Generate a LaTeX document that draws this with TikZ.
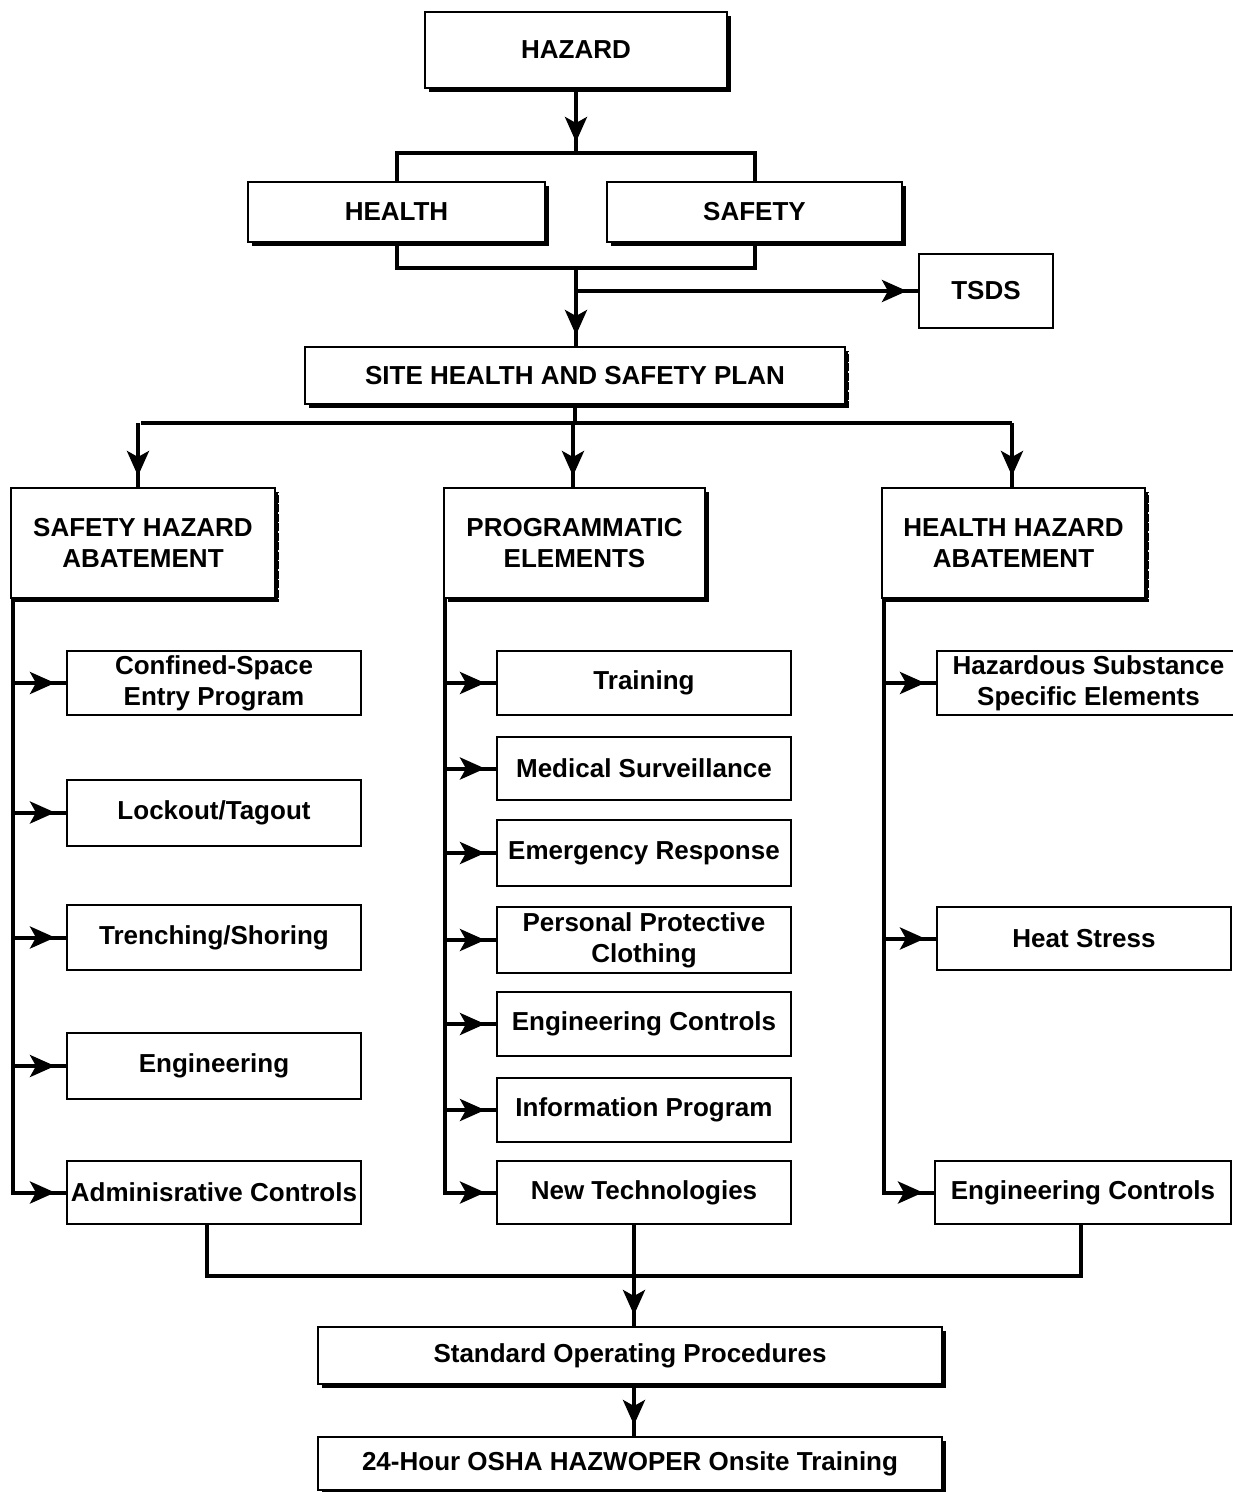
\documentclass[tikz,border=0pt]{standalone}
\usepackage{fontspec}
\setmainfont{Liberation Sans}
\usetikzlibrary{arrows.meta,shadows}
\begin{document}
\begin{tikzpicture}[x=1pt,y=-1pt,
 every node/.style={font=\bfseries\fontsize{26}{31}\selectfont, align=center, inner sep=0pt},
 bigbox/.style={draw, line width=2pt, fill=white, drop shadow={shadow xshift=3.5pt, shadow yshift=-3.5pt, fill=black, opacity=1}},
 smallbox/.style={draw, line width=2pt, fill=white, drop shadow={shadow xshift=1pt, shadow yshift=-1pt, fill=black, opacity=1}},
 conn/.style={line width=4pt},
 flow/.style={conn, postaction={draw, line width=4pt, shorten >=11pt, -{Stealth[length=25pt,width=22pt,inset=6pt]}}},
 dots/.style={white, line width=1.2pt, dash pattern=on 1.5pt off 8pt}
]
\fill[white] (0,0) rectangle (1233,1492);
\useasboundingbox (0,0) rectangle (1233,1492);

% top part
\node[bigbox, minimum width=302, minimum height=76] (hazard) at (576,50) {HAZARD};
\node[bigbox, minimum width=297, minimum height=60] (health) at (396.5,212) {HEALTH};
\node[bigbox, minimum width=295, minimum height=60] (safety) at (754.5,212) {SAFETY};
\node[draw, line width=2pt, fill=white, minimum width=134, minimum height=74] (tsds) at (986,291) {TSDS};
\node[bigbox, minimum width=540, minimum height=57] (shsp) at (575,375.5) {SITE HEALTH AND SAFETY PLAN};

\coordinate (top) at (576,153);
\coordinate (bot) at (576,268);
\coordinate (tj) at (576,291);
\coordinate (sp) at (575,423);

\draw[flow] (hazard.south) -- (top);
\draw[conn] (health.north) |- (top) -| (safety.north);
\draw[conn] (health.south) |- (bot) -| (safety.south);
\draw[flow] (bot) -- (bot |- shsp.north);
\draw[flow] (tj) -- (tsds.west);

% second level
\node[bigbox, minimum width=264, minimum height=110] (sha) at (143,543) {SAFETY HAZARD\\ABATEMENT};
\node[bigbox, minimum width=261, minimum height=110] (pe) at (574.5,543) {PROGRAMMATIC\\ELEMENTS};
\node[bigbox, minimum width=263, minimum height=110] (hha) at (1013.5,543) {HEALTH HAZARD\\ABATEMENT};

\draw[conn] (shsp.south) -- (sp);
\draw[conn] ([xshift=-2pt]sha.north |- sp) -- ([xshift=-1.5pt]hha.north |- sp);
\draw[flow] ([xshift=-5pt]sha.north |- sp) -- ([xshift=-5pt]sha.north);
\draw[flow] ([xshift=-1.5pt]pe.north |- sp) -- ([xshift=-1.5pt]pe.north);
\draw[flow] ([xshift=-1.5pt]hha.north |- sp) -- ([xshift=-1.5pt]hha.north);

\draw[dots] ([xshift=2.5pt,yshift=-6pt]shsp.north east) -- ([xshift=2.5pt]shsp.south east);
\draw[dots] ([xshift=2.5pt,yshift=-6pt]sha.north east) -- ([xshift=2.5pt]sha.south east);
\draw[dots] ([xshift=2.5pt,yshift=-6pt]hha.north east) -- ([xshift=2.5pt]hha.south east);

% left column
\node[smallbox, minimum width=294, minimum height=64] (conf) at (214,683) {Confined-Space\\Entry Program};
\node[smallbox, minimum width=294, minimum height=66] (lock) at (214,812.5) {Lockout/Tagout};
\node[smallbox, minimum width=294, minimum height=65] (trench) at (214,937.5) {Trenching/Shoring};
\node[smallbox, minimum width=294, minimum height=66] (eng) at (214,1066) {Engineering};
\node[smallbox, minimum width=294, minimum height=63] (admin) at (214,1192.5) {Adminisrative Controls};

\coordinate (lb) at (13,598);
\draw[flow] (lb |- conf.west) -- (conf.west);
\draw[flow] (lb |- lock.west) -- (lock.west);
\draw[flow] (lb |- trench.west) -- (trench.west);
\draw[flow] (lb |- eng.west) -- (eng.west);
\draw[flow] (lb) |- (admin.west);

% middle column
\node[smallbox, minimum width=294, minimum height=64] (train) at (644,683) {Training};
\node[smallbox, minimum width=294, minimum height=63] (med) at (644,768.5) {Medical Surveillance};
\node[smallbox, minimum width=294, minimum height=66] (emer) at (644,853) {Emergency Response};
\node[smallbox, minimum width=294, minimum height=66] (ppc) at (644,940) {Personal Protective\\Clothing};
\node[smallbox, minimum width=294, minimum height=64] (engc) at (644,1024) {Engineering Controls};
\node[smallbox, minimum width=294, minimum height=64] (info) at (644,1110) {Information Program};
\node[smallbox, minimum width=294, minimum height=63] (newt) at (644,1192.5) {New Technologies};

\coordinate (mb) at (445,598);
\draw[flow] (mb |- train.west) -- (train.west);
\draw[flow] (mb |- med.west) -- (med.west);
\draw[flow] (mb |- emer.west) -- (emer.west);
\draw[flow] (mb |- ppc.west) -- (ppc.west);
\draw[flow] (mb |- engc.west) -- (engc.west);
\draw[flow] (mb |- info.west) -- (info.west);
\draw[flow] (mb) |- (newt.west);

% right column
\node[smallbox, minimum width=303, minimum height=64] (haz) at (1088.5,683) {Hazardous Substance\\Specific Elements};
\node[smallbox, minimum width=294, minimum height=63] (heat) at (1084,938.5) {Heat Stress};
\node[smallbox, minimum width=296, minimum height=63] (engr) at (1083,1192.5) {Engineering Controls};

\coordinate (rb) at (884,598);
\draw[flow] (rb |- haz.west) -- (haz.west);
\draw[flow] (rb |- heat.west) -- (heat.west);
\draw[flow] (rb) |- (engr.west);

% bottom
\node[bigbox, minimum width=624, minimum height=57] (sop) at (630,1355.5) {Standard Operating Procedures};
\node[bigbox, minimum width=624, minimum height=53] (osha) at (630,1463.5) {24-Hour OSHA HAZWOPER Onsite Training};

\coordinate (mj) at (634,1276);
\draw[conn] ([xshift=-7pt]admin.south) |- (mj) -| ([xshift=-2pt]engr.south);
\draw[conn] (newt.south -| mj) -- (mj);
\draw[flow] (mj) -- (mj |- sop.north);
\draw[flow] (sop.south -| mj) -- (osha.north -| mj);
\end{tikzpicture}
\end{document}
